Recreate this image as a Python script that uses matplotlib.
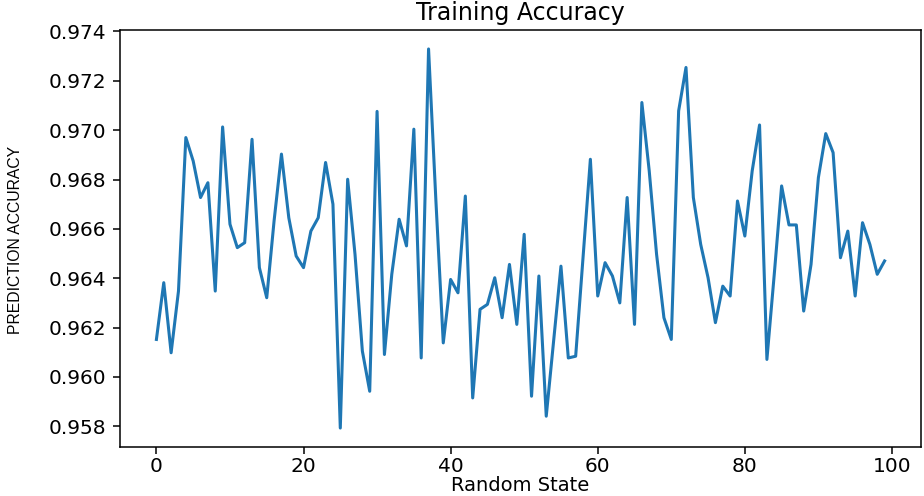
import matplotlib
matplotlib.use("Agg")
import matplotlib.pyplot as plt

# training accuracy for random_state 0..99
random_state = list(range(100))
accuracy = [
    0.96152, 0.96382, 0.96098, 0.96348, 0.96970, 0.96875, 0.96727, 0.96787, 0.96348, 0.97013,
    0.96619, 0.96524, 0.96544, 0.96963, 0.96443, 0.96321, 0.96633, 0.96903, 0.96645, 0.96490,
    0.96443, 0.96591, 0.96645, 0.96869, 0.96700, 0.95793, 0.96801, 0.96497, 0.96105, 0.95942,
    0.97076, 0.96091, 0.96416, 0.96639, 0.96531, 0.97004, 0.96077, 0.97329, 0.96713, 0.96138,
    0.96395, 0.96341, 0.96733, 0.95915, 0.96274, 0.96294, 0.96402, 0.96240, 0.96456, 0.96213,
    0.96578, 0.95922, 0.96409, 0.95841, 0.96145, 0.96449, 0.96077, 0.96084, 0.96483, 0.96882,
    0.96328, 0.96463, 0.96409, 0.96300, 0.96727, 0.96213, 0.97112, 0.96835, 0.96497, 0.96240,
    0.96152, 0.97078, 0.97254, 0.96727, 0.96537, 0.96402, 0.96220, 0.96368, 0.96328, 0.96713,
    0.96571, 0.96835, 0.97021, 0.96071, 0.96416, 0.96774, 0.96616, 0.96616, 0.96267, 0.96456,
    0.96808, 0.96986, 0.96909, 0.96483, 0.96591, 0.96328, 0.96625, 0.96537, 0.96416, 0.96470,
]
yticks = [0.958, 0.960, 0.962, 0.964, 0.966, 0.968, 0.970, 0.972, 0.974]

fig = plt.figure(figsize=(9.24, 4.96), dpi=100)
ax = fig.add_axes([120 / 924, 1 - 447 / 496, 801 / 924, 417 / 496])

ax.plot(random_state, accuracy, color="#1f77b4", linewidth=2.2)

ax.set_title("Training Accuracy", fontsize=17, pad=7)
ax.set_xlabel("Random State", fontsize=14, labelpad=0)
ax.set_yticks(yticks)
ax.set_yticklabels([f"{t:.3f}" for t in yticks])
ax.tick_params(labelsize=14.5, length=5, width=1.1)
ax.tick_params(axis="x", pad=2)
ax.tick_params(axis="y", pad=5)
for s in ax.spines.values():
    s.set_linewidth(1.1)

fig.text(15.5 / 924, 1 - 240 / 496, "PREDICTION ACCURACY", rotation=90,
         ha="center", va="center", fontsize=11.3,
         family=["Liberation Sans Narrow", "Liberation Sans", "DejaVu Sans"])

fig.savefig("out.png", dpi=100)
